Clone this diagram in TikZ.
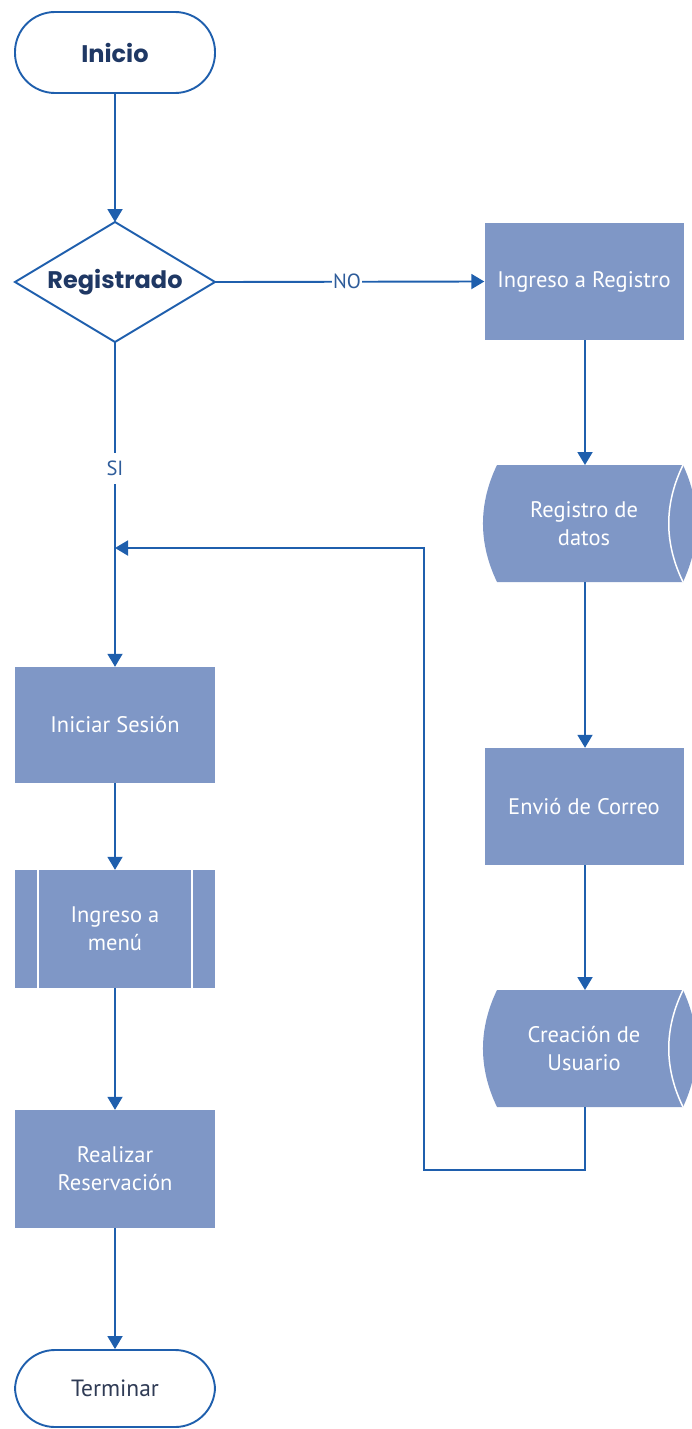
\documentclass[tikz,border=0pt]{standalone}
\usepackage{fontspec}
\setmainfont{PT Sans}
\newfontfamily\headfont{Poppins}
\usetikzlibrary{arrows.meta}
\definecolor{flowline}{HTML}{1F5FAD}
\definecolor{boxfill}{HTML}{7F97C6}
\definecolor{headtext}{HTML}{1F3864}
\definecolor{endtext}{HTML}{2F3B55}
\definecolor{labeltext}{HTML}{2E5C9A}
\begin{document}
\begin{tikzpicture}[x=1pt,y=-1pt,
  conn/.style={draw=flowline,line width=1.9pt},
  arr/.style={conn,-{Triangle[width=15pt,length=13pt]}},
  terminal/.style={draw=flowline,line width=1.9pt,fill=white,rounded corners=40pt,
    minimum width=200pt,inner sep=0pt,align=center},
  procbox/.style={fill=boxfill,minimum width=199pt,minimum height=117pt,inner sep=0pt,
    text=white,align=center,font=\fontsize{22.5}{28}\selectfont},
  headlabel/.style={text=headtext,font=\headfont\bfseries\fontsize{24}{26}\selectfont},
  edgelabel/.style={fill=white,text=labeltext,inner sep=1pt,font=\fontsize{20.5}{22}\selectfont}
]
\useasboundingbox (0,0) rectangle (691,1429);

% start / end terminals
\node[terminal,minimum height=81pt,headlabel] (inicio) at (115,52.5) {Inicio};
\node[terminal,minimum height=77pt,text=endtext,font=\fontsize{23.5}{24}\selectfont]
  (fin) at (115,1388.5) {Terminar};

% decision
\draw[flowline,line width=1.9pt,fill=white] (115,222) -- (215,282) -- (115,342) -- (15,282) -- cycle;
\node[headlabel] (reg) at (115,282) {Registrado};
\coordinate (regT) at (115,222);
\coordinate (regR) at (215,282);
\coordinate (regB) at (115,342);

% process boxes
\node[procbox] (ingreg) at (584,281.5) {Ingreso a Registro};
\node[procbox] (correo) at (584,806.5) {Envió de Correo};
\node[procbox,minimum width=200pt,minimum height=116pt] (sesion) at (115,725) {Iniciar Sesión};
\node[procbox,minimum width=200pt,minimum height=118pt] (menu) at (115,929) {Ingreso a\\menú};
\draw[white,line width=2pt] (38,870) -- (38,988) (192,870) -- (192,988);
\node[procbox,minimum width=200pt,minimum height=118pt] (reserva) at (115,1169) {Realizar\\Reservación};

% stored-data drums
\fill[boxfill] (497,465) -- (683,465) .. controls (701,504) and (701,543) .. (683,582)
  -- (497,582) .. controls (478.3,543) and (478.3,504) .. (497,465) -- cycle;
\draw[white,line width=1.5pt] (683,465) .. controls (664,504) and (664,543) .. (683,582);
\node[text=white,align=center,font=\fontsize{22.5}{28}\selectfont] (datos) at (584,523.5) {Registro de\\datos};
\coordinate (datosT) at (585,465);
\coordinate (datosB) at (585,582);

\fill[boxfill] (497,990) -- (683,990) .. controls (701,1029) and (701,1068) .. (683,1107)
  -- (497,1107) .. controls (478.3,1068) and (478.3,1029) .. (497,990) -- cycle;
\draw[white,line width=1.5pt] (683,990) .. controls (664,1029) and (664,1068) .. (683,1107);
\node[text=white,align=center,font=\fontsize{22.5}{28}\selectfont] (usuario) at (584,1048.5) {Creación de\\Usuario};
\coordinate (usuT) at (585,990);
\coordinate (usuB) at (585,1107);

% connectors
\draw[arr] (inicio.south) -- (regT);
\draw[arr] (regR) -- node[edgelabel,pos=0.49] (no) {NO} (ingreg.west);
\draw[arr] (ingreg.south -| datosT) -- (datosT);
\draw[arr] (datosB) -- (correo.north -| datosB);
\draw[arr] (correo.south -| usuT) -- (usuT);
\coordinate (join) at (115,548);
\coordinate (loopA) at (585,1170);
\coordinate (loopB) at (424,1170);
\coordinate (loopC) at (424,548);
\draw[arr] (usuB) -- (loopA) -- (loopB) -- (loopC) -- (join);
\draw[arr] (regB) -- node[edgelabel,pos=0.39,inner sep=8pt] (si) {SI} (sesion.north);
\draw[arr] (sesion.south) -- (menu.north);
\draw[arr] (menu.south) -- (reserva.north);
\draw[arr] (reserva.south) -- (fin.north);
\end{tikzpicture}
\end{document}
